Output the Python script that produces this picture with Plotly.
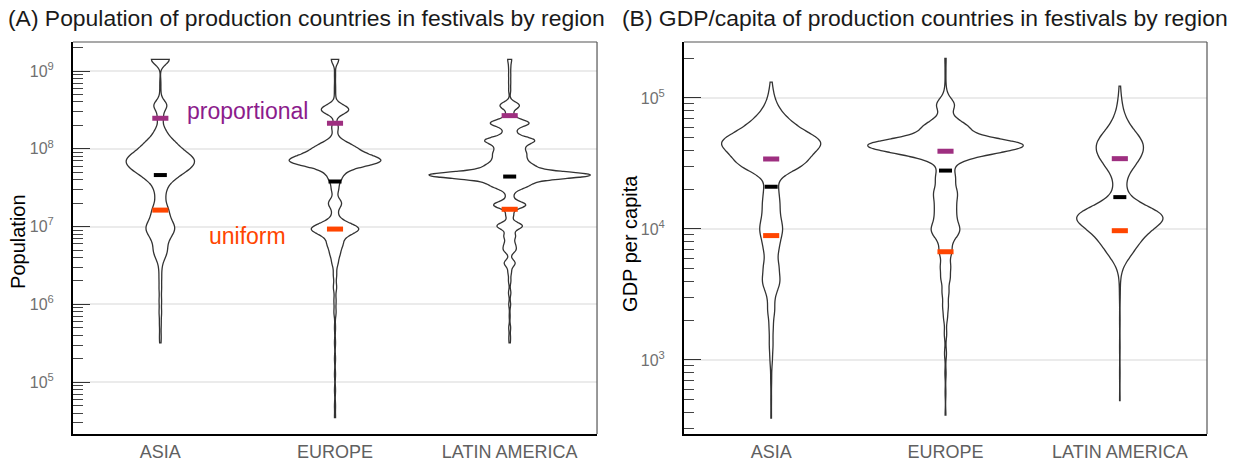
'''
    Violin charts of the population and GDP per capita of the production
    countries of festival films, by region, with reference markers.
'''

import numpy as np
import plotly.graph_objects as go

REGIONS = ['ASIA', 'EUROPE', 'LATIN AMERICA']

# Population of the production country -> number of festival films
asia_pop = [1.41e9, 7.1e8, 5.2e8, 3.6e8, 2.5e8, 1.74e8, 1.38e8, 1.15e8, 9.5e7, 7.9e7,
            6.6e7, 5.5e7, 4.6e7, 3.8e7, 3.0e7, 2.3e7, 1.74e7, 1.38e7, 1.1e7, 9.1e6,
            7.6e6, 6.3e6, 5.0e6, 4.0e6, 3.0e6, 2.2e6, 1.6e6, 1.12e6, 7.9e5, 5.6e5,
            4.0e5, 3.2e5]
asia_pop_films = [55, 3, 3, 39, 16, 23, 33, 55, 72, 103,
                  109, 91, 61, 39, 26, 23, 33, 36, 46, 49,
                  33, 26, 29, 20, 8, 7, 7, 7, 7, 5,
                  4, 3]

europe_pop = [1.41e9, 8.9e8, 6.3e8, 4.8e8, 3.2e8, 1.9e8, 1.32e8, 1.07e8, 8.7e7, 7.2e7,
              6.3e7, 5.0e7, 4.0e7, 3.0e7, 2.0e7, 1.48e7, 1.12e7, 9.3e6, 7.6e6, 5.9e6,
              4.5e6, 3.4e6, 2.4e6, 1.66e6, 1.12e6, 7.9e5, 5.0e5, 3.2e5, 2.0e5, 1.26e5,
              7.9e4, 5.0e4, 3.5e4]
europe_pop_films = [21, 3, 3, 3, 78, 18, 18, 78, 90, 162,
                    98, 36, 24, 18, 36, 12, 36, 108, 36, 36,
                    24, 15, 9, 9, 6, 6, 3, 3, 3, 3,
                    3, 3, 3]

latam_pop = [1.41e9, 1.12e9, 8.9e8, 7.1e8, 5.6e8, 3.6e8, 2.75e8, 2.14e8, 1.66e8, 1.29e8,
             1.05e8, 8.7e7, 7.2e7, 5.9e7, 4.6e7, 3.7e7, 3.2e7, 2.5e7, 1.9e7, 1.41e7,
             1.02e7, 7.6e6, 6.0e6, 5.0e6, 3.4e6, 2.6e6, 2.0e6, 1.41e6, 1.0e6, 7.1e5,
             5.0e5, 3.8e5, 3.2e5]
latam_pop_films = [8, 4, 4, 4, 4, 41, 14, 81, 23, 99,
                   45, 54, 54, 90, 333, 63, 45, 14, 68, 16,
                   54, 23, 18, 23, 23, 7, 5, 5, 4, 2,
                   4, 3, 2]

# GDP per capita of the production country -> number of festival films
asia_gdp = [1.32e5, 1.1e5, 9.1e4, 7.6e4, 6.3e4, 5.2e4, 4.4e4, 3.6e4, 3.0e4, 2.5e4,
            2.0e4, 1.58e4, 1.26e4, 1.02e4, 8.5e3, 6.9e3, 5.2e3, 4.0e3, 3.2e3, 2.4e3,
            1.78e3, 1.32e3, 1.0e3, 7.1e2, 5.0e2, 3.6e2]
asia_gdp_films = [3, 9, 18, 42, 90, 146, 216, 146, 132, 18,
                  36, 42, 39, 51, 36, 36, 42, 48, 21, 21,
                  12, 11, 7, 3, 2, 2]

europe_gdp = [2.0e5, 1.58e5, 1.26e5, 1.05e5, 8.9e4, 7.6e4, 6.6e4, 5.8e4, 5.0e4, 4.4e4,
              3.8e4, 3.3e4, 2.8e4, 2.4e4, 2.0e4, 1.74e4, 1.48e4, 1.26e4, 1.07e4, 9.3e3,
              7.9e3, 6.6e3, 5.2e3, 4.2e3, 3.3e3, 2.6e3, 2.1e3, 1.58e3, 1.12e3, 7.9e2,
              5.6e2, 3.8e2]
europe_gdp_films = [3, 2, 2, 6, 41, 10, 41, 82, 62, 318,
                    144, 31, 26, 36, 36, 36, 36, 36, 41, 47,
                    21, 26, 23, 21, 16, 13, 9, 6, 5, 3,
                    2, 2]

latam_gdp = [1.23e5, 1.0e5, 8.3e4, 6.9e4, 5.8e4, 4.8e4, 4.0e4, 3.3e4, 2.75e4, 2.2e4,
             1.82e4, 1.51e4, 1.26e4, 1.05e4, 8.7e3, 7.2e3, 6.0e3, 4.6e3, 3.2e3, 2.0e3,
             1.26e3, 7.9e2, 4.9e2]
latam_gdp_films = [3, 6, 11, 21, 45, 92, 98, 76, 35, 25,
                   21, 70, 231, 126, 91, 63, 35, 6, 3, 2,
                   2, 2, 2]

# Reference markers per region (ASIA, EUROPE, LATIN AMERICA)
pop_proportional = [2.47e8, 2.13e8, 2.67e8]
pop_observed = [4.6e7, 3.8e7, 4.4e7]
pop_uniform = [1.63e7, 9.3e6, 1.67e7]
gdp_proportional = [3.42e4, 3.92e4, 3.44e4]
gdp_observed = [2.1e4, 2.79e4, 1.75e4]
gdp_uniform = [8.9e3, 6.7e3, 9.7e3]

PURPLE = '#9e2f80'
ORANGE = '#ff4500'
FONT = 'Liberation Sans, Arial, sans-serif'


def add_violins(fig, groups, bandwidths, xaxis, yaxis, group):
    '''
        Adds one violin per region. The values are drawn on a log10 scale
        and the violins of a panel share their scale (area ~ number of films).
    '''
    for region, (values, films), bw in zip(REGIONS, groups, bandwidths):
        y = np.log10(np.repeat(values, films))
        fig.add_trace(go.Violin(
            x=[region] * len(y), y=y, xaxis=xaxis, yaxis=yaxis,
            bandwidth=bw, spanmode='hard', scalemode='count', scalegroup=group,
            points=False, box_visible=False, meanline_visible=False,
            fillcolor='white', line=dict(color='#333', width=1.3),
            hoverinfo='skip', showlegend=False))


def add_marks(fig, values, color, size, thickness, xaxis, yaxis):
    '''
        Adds the short horizontal marks of a reference value.
    '''
    fig.add_trace(go.Scatter(
        x=REGIONS, y=np.log10(values), xaxis=xaxis, yaxis=yaxis, mode='markers',
        marker=dict(symbol='line-ew', size=size,
                    line=dict(color=color, width=thickness)),
        hoverinfo='skip', showlegend=False))


def log_axis(rng, decades):
    '''
        Linear axis over log10 values, labelled as powers of ten.
    '''
    minor = [d + np.log10(k) for d in range(decades[0] - 1, decades[-1] + 1)
             for k in range(2, 10)]
    return dict(
        range=rng, tickmode='array', tickvals=decades,
        ticktext=['10<sup>%d</sup>' % d for d in decades],
        ticks='inside', ticklen=17, tickwidth=1.2, tickcolor='#333',
        minor=dict(tickmode='array', tickvals=minor, ticks='inside',
                   ticklen=10, tickwidth=1, tickcolor='#444', showgrid=False),
        showgrid=True, gridcolor='#ebebeb', gridwidth=2, zeroline=False,
        showline=True, linecolor='black', linewidth=2, automargin=False,
        tickfont=dict(size=16, color='#707070'), ticklabelstandoff=14)


def cat_axis():
    return dict(type='category', categoryorder='array', categoryarray=REGIONS,
                range=[-0.5, 2.5], showgrid=False, zeroline=False, automargin=False,
                showline=True, linecolor='black', linewidth=2, ticks='',
                tickfont=dict(size=18, color='#606060'), ticklabelstandoff=0)


fig = go.Figure()

add_violins(fig, [(asia_pop, asia_pop_films), (europe_pop, europe_pop_films),
                  (latam_pop, latam_pop_films)],
            [0.065, 0.06, 0.045], 'x', 'y', 'pop')
add_violins(fig, [(asia_gdp, asia_gdp_films), (europe_gdp, europe_gdp_films),
                  (latam_gdp, latam_gdp_films)],
            [0.06, 0.045, 0.07], 'x2', 'y2', 'gdp')

for xa, ya, prop, obs, uni in (('x', 'y', pop_proportional, pop_observed, pop_uniform),
                               ('x2', 'y2', gdp_proportional, gdp_observed, gdp_uniform)):
    add_marks(fig, prop, PURPLE, 11.5, 5, xa, ya)
    add_marks(fig, obs, 'black', 9.3, 4, xa, ya)
    add_marks(fig, uni, ORANGE, 11.5, 5, xa, ya)

fig.update_layout(
    width=1239, height=468,
    margin=dict(l=73, r=32, t=42, b=34),
    paper_bgcolor='white', plot_bgcolor='white',
    violinmode='overlay', violingap=0.076, violingroupgap=0,
    font=dict(family=FONT, color='#222'),
    xaxis=dict(domain=[0, 0.4621], anchor='y', **cat_axis()),
    xaxis2=dict(domain=[0.5388, 1], anchor='y2', **cat_axis()),
    yaxis=dict(anchor='x', **log_axis([4.334, 9.373], [5, 6, 7, 8, 9])),
    yaxis2=dict(anchor='x2', **log_axis([2.435, 5.427], [3, 4, 5])),
)

# thin frame on the top and right of each panel
for xa, ya in (('x', 'y'), ('x2', 'y2')):
    fig.add_shape(type='line', xref=xa + ' domain', yref=ya + ' domain',
                  x0=0, x1=1, y0=1, y1=1, line=dict(color='#555', width=1.2))
    fig.add_shape(type='line', xref=xa + ' domain', yref=ya + ' domain',
                  x0=1, x1=1, y0=0, y1=1, line=dict(color='#555', width=1.2))

annotations = [
    dict(text='(A) Population of production countries in festivals by region',
         xref='paper', yref='paper', x=-0.0591, y=1, xanchor='left',
         yanchor='middle', yshift=24, font=dict(size=22.9, color='#1a1a1a')),
    dict(text='(B) GDP/capita of production countries in festivals by region',
         xref='paper', yref='paper', x=0.4824, y=1, xanchor='left',
         yanchor='middle', yshift=24, font=dict(size=22.9, color='#1a1a1a')),
    dict(text='Population', xref='paper', yref='paper', x=-0.0485, y=0.49,
         xanchor='center', yanchor='middle', textangle=-90,
         font=dict(size=20, color='black')),
    dict(text='GDP per capita', xref='paper', yref='paper', x=0.4912, y=0.485,
         xanchor='center', yanchor='middle', textangle=-90,
         font=dict(size=20, color='black')),
    dict(text='proportional', xref='x', yref='y', x=0.5, y=8.49,
         font=dict(size=23, color='#8c1c8c')),
    dict(text='uniform', xref='x', yref='y', x=0.5, y=6.88,
         font=dict(size=23, color=ORANGE)),
]
for a in annotations:
    a.setdefault('showarrow', False)
fig.update_layout(annotations=annotations)

# let the figure fill the window exactly (no default page margin, no modebar)
fig.write_html('out.html', config={'displayModeBar': False},
               post_script="document.body.style.margin = '0';")
